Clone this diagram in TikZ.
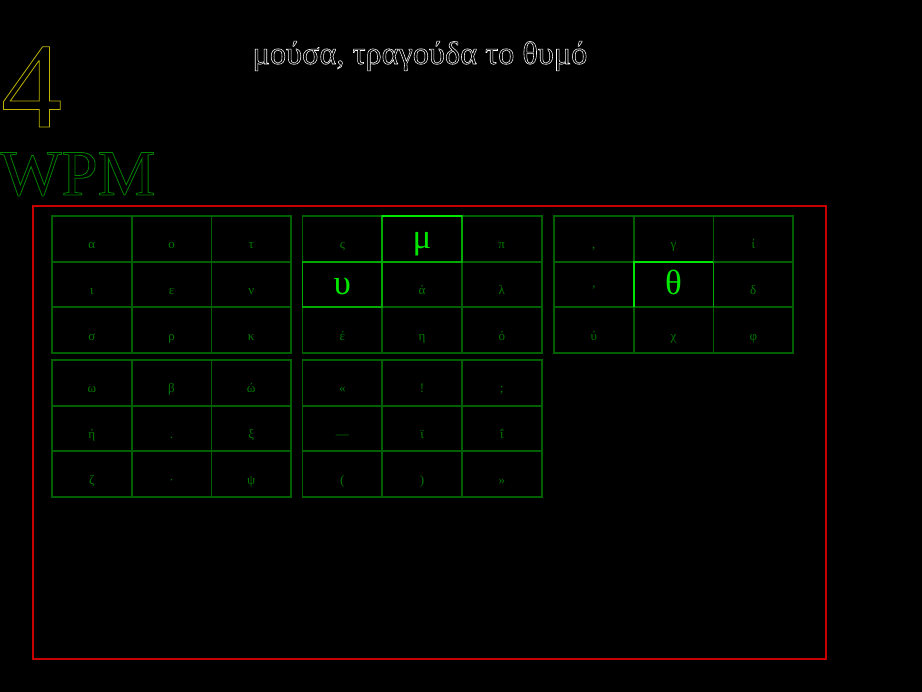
\documentclass[tikz,border=0pt]{standalone}
\usepackage{fontspec}
\setmainfont{Liberation Serif}
\definecolor{dkgreen}{RGB}{0,95,0}
\definecolor{txgreen}{RGB}{0,120,0}
\definecolor{midgreen}{RGB}{0,170,0}
\definecolor{brgreen}{RGB}{0,230,0}
\definecolor{wgreen}{RGB}{0,130,0}
\definecolor{yel}{RGB}{190,180,0}
\definecolor{frred}{RGB}{200,0,0}
\newcommand\outlined[2][0.8]{\special{pdf:literal direct #1 w 1 Tr}#2\special{pdf:literal direct 0 Tr}}
\tikzset{
  cellbox/.style={draw=dkgreen, line width=1.8pt, minimum width=79.7pt, minimum height=45.7pt,
    inner sep=0pt, outer sep=0pt, anchor=north west},
  celltext/.style={text=txgreen, font=\fontsize{13}{15}\selectfont, anchor=base, inner sep=0pt},
  bigtext/.style={text=brgreen, font=\fontsize{35}{38}\selectfont, anchor=base, inner sep=0pt},
  hiedge/.style={draw=midgreen, line width=1.8pt},
  brightedge/.style={draw=brgreen, line width=1.8pt},
}
\newcommand\keygrid[4]{%
  \foreach \t [count=\k from 0] in {#4} {
    \pgfmathtruncatemacro\cc{mod(\k,3)}
    \pgfmathtruncatemacro\rr{div(\k,3)}
    \node[cellbox] (#1-\cc-\rr) at ({#2+\cc*79.7},{#3+\rr*45.7}) {};
    \node[celltext] (#1-\cc-\rr-t) at ([yshift=-10pt]#1-\cc-\rr.center) {\t};
  }}
\begin{document}
\begin{tikzpicture}[x=1pt,y=-1pt]
\fill[black] (0,0) rectangle (922,692);
\useasboundingbox (0,0) rectangle (922,692);

\node[anchor=base, inner sep=0pt, font=\fontsize{32.3}{36}\selectfont, text=white] (title) at (420,64) {\outlined[0.55]{μούσα, τραγούδα το θυμό}};
\node[anchor=base west, inner sep=0pt, font=\fontsize{122}{124}\selectfont, text=yel] (num) at (1,127) {\outlined{4}};
\node[anchor=base west, inner sep=0pt, font=\fontsize{65}{70}\selectfont, text=wgreen] (wpm) at (0,195) {\outlined{WPM}};

\node[draw=frred, line width=2pt, minimum width=793pt, minimum height=453pt, inner sep=0pt, anchor=north west] (frame) at (32,205) {};

\keygrid{ga}{52}{216}{α, ο, τ, ι, ε, ν, σ, ρ, κ}
\keygrid{gb}{302.5}{216}{ς, {}, π, {}, ά, λ, έ, η, ό}
\keygrid{gc}{554}{216}{{,}, γ, ί, ’, {}, δ, ύ, χ, φ}
\keygrid{gd}{52}{360}{ω, β, ώ, ή, ., ξ, ζ, ·, ψ}
\keygrid{ge}{302.5}{360}{«, !, ;, —, ϊ, ΐ, {(}, {)}, »}

% highlighted cells
\draw[hiedge] (gb-1-0.north west) rectangle (gb-1-0.south east);
\draw[brightedge] (gb-1-0.north west) -- (gb-1-0.north east);
\draw[hiedge] (gb-0-1.north west) rectangle (gb-0-1.south east);
\draw[hiedge] (gc-1-1.north east) -- (gc-1-1.south east);
\draw[brightedge] (gc-1-1.south west) -- (gc-1-1.north west) -- (gc-1-1.north east);

\node[bigtext] (mu) at ([yshift=-10pt]gb-1-0.center) {μ};
\node[bigtext] (ups) at ([yshift=-10pt]gb-0-1.center) {υ};
\node[bigtext] (th) at ([yshift=-10pt]gc-1-1.center) {θ};
\end{tikzpicture}
\end{document}
